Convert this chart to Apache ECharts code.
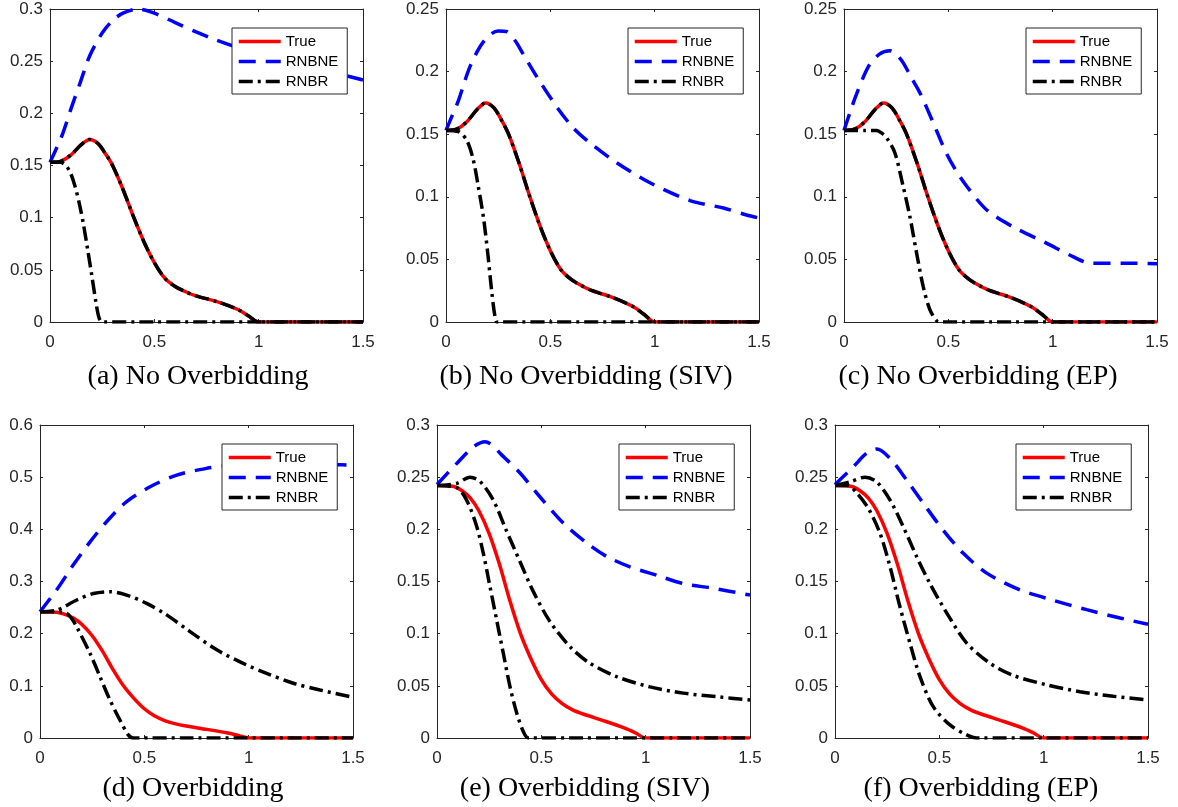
<!DOCTYPE html>
<html>
<head>
<meta charset="utf-8">
<title>RNB comparison</title>
<script src="https://cdn.jsdelivr.net/npm/echarts@6/dist/echarts.min.js"></script>
<style>
  body { margin: 0; background: #fff; }
  #main { width: 1178px; height: 807px; }
</style>
</head>
<body>
<div id="main"></div>
<script type="text/javascript">
// ---- data: [x, y] pairs ----
// top row: the true curve (same in a, b, c); RNBR upper coincides with it
var trueTop = [[0,0.153],[0.05,0.154],[0.1,0.160],[0.15,0.170],[0.19,0.175],[0.23,0.171],[0.27,0.160],[0.3,0.150],[0.35,0.127],[0.4,0.101],[0.45,0.077],[0.5,0.057],[0.55,0.042],[0.6,0.034],[0.65,0.029],[0.7,0.025],[0.8,0.0195],[0.9,0.012],[0.95,0.006],[1.0,0],[1.25,0],[1.5,0]];
// bottom row: the true curve (same in d, e, f)
var trueBot = [[0,0.242],[0.08,0.241],[0.12,0.237],[0.16,0.230],[0.2,0.218],[0.25,0.196],[0.3,0.166],[0.35,0.131],[0.4,0.100],[0.45,0.076],[0.5,0.056],[0.55,0.042],[0.6,0.033],[0.65,0.027],[0.7,0.023],[0.8,0.0165],[0.9,0.0095],[0.95,0.005],[1.0,0],[1.25,0],[1.5,0]];

var rnbneA = [[0,0.153],[0.03,0.166],[0.06,0.180],[0.1,0.204],[0.144,0.229],[0.19,0.255],[0.25,0.277],[0.3,0.289],[0.35,0.296],[0.42,0.300],[0.5,0.296],[0.6,0.287],[0.7,0.278],[0.8,0.270],[0.9,0.263],[1.0,0.257],[1.2,0.246],[1.4,0.237],[1.5,0.232]];
var rnbrLowA = [[0,0.153],[0.05,0.153],[0.08,0.149],[0.1,0.142],[0.12,0.130],[0.14,0.114],[0.16,0.094],[0.18,0.070],[0.2,0.045],[0.22,0.019],[0.235,0.004],[0.25,0],[0.5,0],[1.5,0]];

var rnbneB = [[0,0.153],[0.03,0.165],[0.06,0.177],[0.115,0.204],[0.18,0.224],[0.25,0.2325],[0.29,0.232],[0.33,0.225],[0.37,0.214],[0.435,0.196],[0.53,0.172],[0.61,0.155],[0.69,0.143],[0.82,0.127],[0.98,0.111],[1.17,0.097],[1.33,0.091],[1.44,0.0855],[1.5,0.083]];
var rnbrLowB = [[0,0.153],[0.06,0.152],[0.1,0.145],[0.13,0.130],[0.155,0.108],[0.18,0.083],[0.2,0.055],[0.22,0.023],[0.235,0.004],[0.245,0],[0.5,0],[1.5,0]];

var rnbneC = [[0,0.153],[0.03,0.168],[0.06,0.182],[0.117,0.204],[0.17,0.214],[0.22,0.2167],[0.25,0.214],[0.284,0.207],[0.32,0.196],[0.364,0.183],[0.428,0.159],[0.49,0.135],[0.54,0.120],[0.59,0.108],[0.684,0.0895],[0.81,0.076],[0.97,0.063],[1.1,0.052],[1.18,0.047],[1.35,0.047],[1.5,0.0465]];
var rnbrLowC = [[0,0.153],[0.1,0.153],[0.157,0.153],[0.18,0.151],[0.205,0.147],[0.244,0.135],[0.284,0.108],[0.316,0.084],[0.348,0.055],[0.38,0.028],[0.412,0.0096],[0.444,0.001],[0.46,0],[0.7,0],[1.5,0]];

var rnbneD = [[0,0.242],[0.08,0.284],[0.16,0.332],[0.24,0.376],[0.32,0.415],[0.415,0.453],[0.53,0.482],[0.655,0.504],[0.8,0.517],[0.9,0.522],[1.0,0.525],[1.2,0.526],[1.4,0.524],[1.5,0.523]];
var rnbrUpD = [[0,0.242],[0.08,0.245],[0.176,0.2645],[0.256,0.277],[0.335,0.2805],[0.415,0.274],[0.511,0.258],[0.607,0.236],[0.719,0.204],[0.847,0.169],[0.974,0.143],[1.086,0.124],[1.214,0.105],[1.342,0.092],[1.5,0.078]];
var rnbrLowD = [[0,0.242],[0.08,0.242],[0.128,0.239],[0.15,0.230],[0.176,0.213],[0.24,0.162],[0.2875,0.1175],[0.335,0.073],[0.383,0.0345],[0.423,0.006],[0.447,0],[0.7,0],[1.5,0]];

var rnbneE = [[0,0.243],[0.094,0.263],[0.174,0.279],[0.23,0.284],[0.27,0.280],[0.302,0.273],[0.398,0.254],[0.494,0.231],[0.605,0.206],[0.717,0.187],[0.813,0.174],[0.925,0.164],[1.053,0.156],[1.18,0.148],[1.324,0.1435],[1.5,0.137]];
var rnbrUpE = [[0,0.242],[0.094,0.244],[0.158,0.250],[0.206,0.246],[0.27,0.228],[0.33,0.200],[0.4,0.168],[0.46,0.141],[0.54,0.112],[0.64,0.087],[0.73,0.072],[0.861,0.0588],[1.021,0.049],[1.18,0.043],[1.34,0.0396],[1.5,0.0364]];
var rnbrLowE = [[0,0.242],[0.094,0.240],[0.142,0.228],[0.19,0.203],[0.222,0.177],[0.254,0.145],[0.286,0.113],[0.318,0.081],[0.35,0.049],[0.382,0.024],[0.414,0.006],[0.438,0],[0.7,0],[1.5,0]];

var rnbneF = [[0,0.243],[0.088,0.260],[0.152,0.273],[0.2,0.277],[0.264,0.268],[0.344,0.247],[0.423,0.225],[0.519,0.199],[0.615,0.177],[0.727,0.158],[0.886,0.142],[1.046,0.132],[1.206,0.123],[1.366,0.115],[1.5,0.109]];
var rnbrUpF = [[0,0.242],[0.072,0.2455],[0.144,0.250],[0.2,0.2455],[0.264,0.228],[0.327,0.2026],[0.391,0.174],[0.455,0.148],[0.535,0.120],[0.631,0.091],[0.743,0.0716],[0.854,0.060],[1.014,0.051],[1.174,0.0444],[1.334,0.040],[1.5,0.0364]];
var rnbrLowF = [[0,0.242],[0.06,0.242],[0.104,0.235],[0.16,0.220],[0.216,0.196],[0.264,0.164],[0.311,0.126],[0.359,0.091],[0.407,0.059],[0.471,0.030],[0.551,0.0125],[0.631,0.003],[0.68,0],[1.0,0],[1.5,0]];

// axis ranges / captions
var captions = ['(a) No Overbidding', '(b) No Overbidding (SIV)', '(c) No Overbidding (EP)',
                '(d) Overbidding', '(e) Overbidding (SIV)', '(f) Overbidding (EP)'];
var yMax = [0.3, 0.25, 0.25, 0.6, 0.3, 0.3];
var yStep = [0.05, 0.05, 0.05, 0.1, 0.05, 0.05];
var xMax = 1.5, xStep = 0.5;
var legendNames = ['True', 'RNBNE', 'RNBR'];

var curves = [
    {truth: trueTop, ne: rnbneA, low: rnbrLowA, up: trueTop},
    {truth: trueTop, ne: rnbneB, low: rnbrLowB, up: trueTop},
    {truth: trueTop, ne: rnbneC, low: rnbrLowC, up: trueTop},
    {truth: trueBot, ne: rnbneD, low: rnbrLowD, up: rnbrUpD},
    {truth: trueBot, ne: rnbneE, low: rnbrLowE, up: rnbrUpE},
    {truth: trueBot, ne: rnbneF, low: rnbrLowF, up: rnbrUpF}
];

// ---- layout (pixels) ----
var layout = [
    {left: 50,  top: 9,   legL: 232,  legT: 28,  capX: 198, capY: 377},
    {left: 446, top: 9,   legL: 628,  legT: 28,  capX: 586, capY: 377},
    {left: 844, top: 9,   legL: 1026, legT: 28,  capX: 978, capY: 377},
    {left: 40,  top: 425, legL: 222,  legT: 444, capX: 193, capY: 789},
    {left: 437, top: 425, legL: 619,  legT: 444, capX: 585, capY: 789},
    {left: 835, top: 425, legL: 1016, legT: 444, capX: 981, capY: 789}
];
var SIZE = 313;
var axisColor = '#262626';
var LW = 3.5;
var dashNE = [17, 10];
var dashBR = [14, 5, 3, 5];

var grids = [], xAxes = [], yAxes = [], series = [], legends = [], graphics = [];

function axisBase(extra) {
    var a = {
        type: 'value',
        axisLine: {onZero: false, lineStyle: {color: axisColor, width: 1}},
        axisTick: {inside: true, length: 3, lineStyle: {color: axisColor}},
        axisLabel: {show: false},
        splitLine: {show: false}
    };
    for (var k in extra) a[k] = extra[k];
    return a;
}

function lineSeries(name, data, i, color, type) {
    return {
        name: name, type: 'line', data: data,
        xAxisIndex: 2 * i, yAxisIndex: 2 * i,
        symbol: 'none', showSymbol: false, smooth: 0.3,
        lineStyle: {color: color, width: LW, type: type},
        itemStyle: {color: color},
        emphasis: {disabled: true}
    };
}

layout.forEach(function (p, i) {
    var lab = {show: true, color: axisColor, fontSize: 17, fontFamily: 'Liberation Sans'};
    grids.push({left: p.left, top: p.top, width: SIZE, height: SIZE});

    xAxes.push(axisBase({gridIndex: i, position: 'bottom', min: 0, max: xMax, interval: xStep,
        axisLabel: Object.assign({margin: 12}, lab)}));
    xAxes.push(axisBase({gridIndex: i, position: 'top', min: 0, max: xMax, interval: xStep}));
    yAxes.push(axisBase({gridIndex: i, position: 'left', min: 0, max: yMax[i], interval: yStep[i],
        axisLabel: Object.assign({margin: 7}, lab)}));
    yAxes.push(axisBase({gridIndex: i, position: 'right', min: 0, max: yMax[i], interval: yStep[i]}));

    var c = curves[i];
    series.push(lineSeries('True', c.truth, i, '#ff0000', 'solid'));
    series.push(lineSeries('RNBNE', c.ne, i, '#0000ff', dashNE));
    series.push(lineSeries('RNBR', c.low, i, '#000000', dashBR));
    series.push(lineSeries('RNBR', c.up, i, '#000000', dashBR));

    legends.push({
        left: p.legL, top: p.legT, orient: 'vertical', align: 'left',
        data: legendNames, selectedMode: false,
        itemWidth: 42, itemHeight: 14, itemGap: 5,
        padding: [6, 9, 5, 5],
        itemStyle: {opacity: 0, color: 'rgba(0,0,0,0)', borderWidth: 0},
        lineStyle: {width: LW},
        backgroundColor: '#fff', borderColor: axisColor, borderWidth: 1, borderRadius: 0,
        textStyle: {fontSize: 15, fontFamily: 'Liberation Sans', color: '#000', lineHeight: 15}
    });

    graphics.push({
        type: 'text', x: p.capX, y: p.capY, silent: true,
        style: {
            text: captions[i], font: '28px "Liberation Serif"', fill: '#000',
            align: 'center', verticalAlign: 'middle',
            textAlign: 'center', textVerticalAlign: 'middle'
        }
    });
});

var myChart = echarts.init(document.getElementById('main'));
var option = {
    animation: false,
    backgroundColor: '#fff',
    grid: grids,
    xAxis: xAxes,
    yAxis: yAxes,
    legend: legends,
    series: series,
    graphic: graphics
};
myChart.setOption(option);
</script>
</body>
</html>
